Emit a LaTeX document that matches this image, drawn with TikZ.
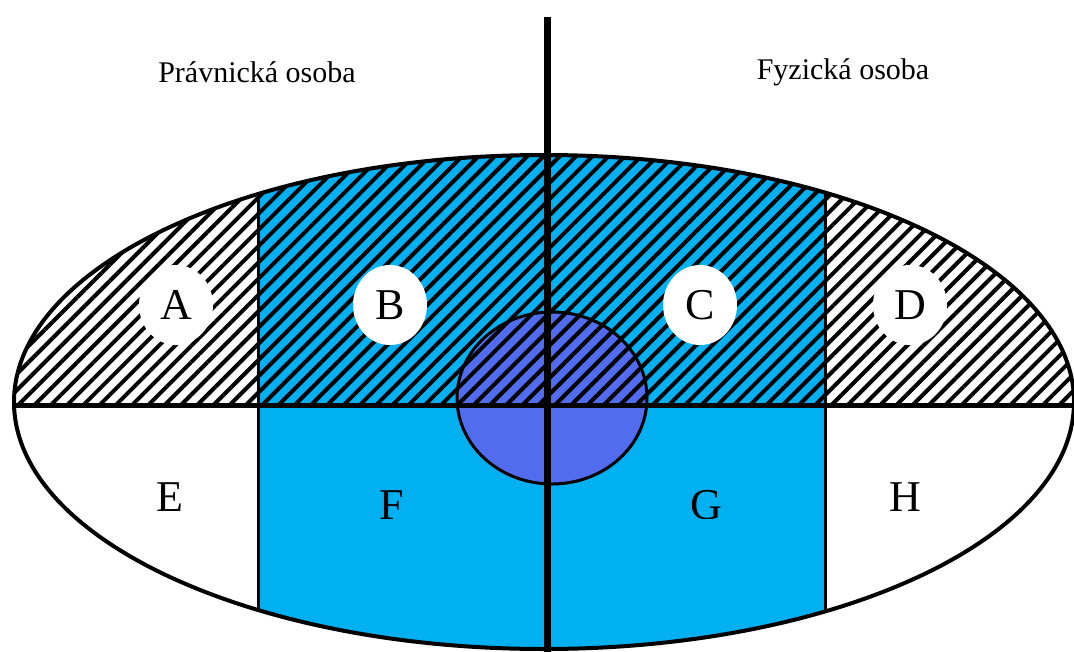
\documentclass[tikz,border=0pt]{standalone}
\usepackage{fontspec}
\setmainfont{Liberation Serif}
\usetikzlibrary{patterns.meta,shapes.geometric}
\definecolor{lightblue}{RGB}{0,176,240}
\definecolor{midblue}{RGB}{82,108,240}
\tikzset{
  hatch/.style={pattern={Lines[angle=45,distance=11.5pt,line width=4pt]},pattern color=black},
  lbl/.style={font=\fontsize{44}{44}\selectfont,inner sep=0pt},
  lblcirc/.style={lbl,ellipse,fill=white,minimum width=74pt,minimum height=80pt},
  side/.style={font=\fontsize{30}{30}\selectfont,inner sep=0pt}
}
\begin{document}
\begin{tikzpicture}[x=1pt,y=-1pt]
\useasboundingbox (0,0) rectangle (1074,651);
\fill[white] (0,0) rectangle (1074,651);
% clipped interior
\begin{scope}
  \clip (544,402) ellipse [x radius=530, y radius=247];
  \fill[hatch] (0,0) rectangle (1074,405);
  \fill[lightblue] (258,0) rectangle (825,651);
  \fill[hatch] (258,0) rectangle (825,405);
  \fill[midblue] (552,398) ellipse [x radius=95, y radius=86];
  \begin{scope}
    \clip (0,0) rectangle (1074,405);
    \fill[hatch] (552,398) ellipse [x radius=95, y radius=86];
  \end{scope}
  \draw[line width=3pt] (552,398) ellipse [x radius=95, y radius=86];
  \draw[line width=3pt] (258,0) -- (258,651);
  \draw[line width=3pt] (825,0) -- (825,651);
  \draw[line width=5pt] (0,405) -- (1074,405);
\end{scope}
\draw[line width=4pt] (544,402) ellipse [x radius=530, y radius=247];
\coordinate (vtop) at (547,17);
\coordinate (vbot) at (547,660);
\draw[line width=7pt] (vtop) -- (vbot);
% labels
\node[side] (po) at (257,72) {Právnická osoba};
\node[side] (fo) at (843,72) {Fyzická osoba};
\node[lblcirc] (A) at (176,305) {A};
\node[lblcirc] (B) at (390,305) {B};
\node[lblcirc] (C) at (700,305) {C};
\node[lblcirc] (D) at (910,305) {D};
\node[lbl] (E) at (170,497) {E};
\node[lbl] (H) at (905,497) {H};
\begin{scope}
  \clip (300,470) rectangle (800,518);
  \node[lbl] (F) at (392,505) {F};
  \node[lbl] (G) at (706,505) {G};
\end{scope}
\end{tikzpicture}
\end{document}
